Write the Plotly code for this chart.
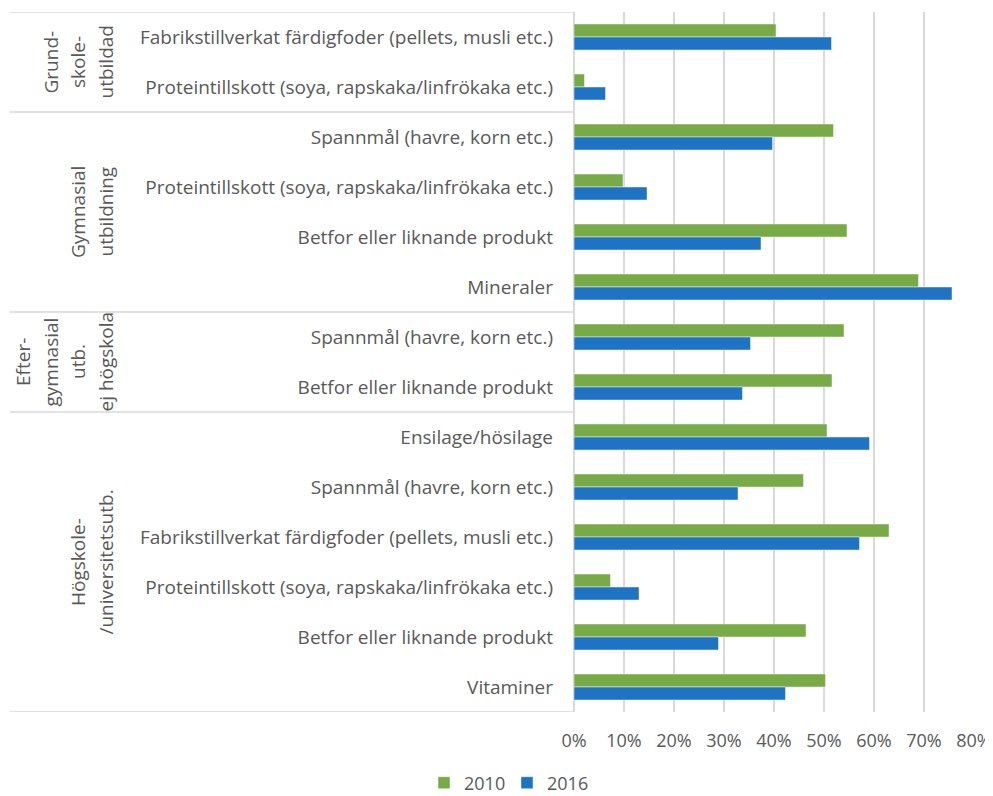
import plotly.graph_objects as go

# ---- data ----
categories = [
    "Fabrikstillverkat färdigfoder (pellets, musli etc.)",
    "Proteintillskott (soya, rapskaka/linfrökaka etc.)",
    "Spannmål (havre, korn etc.)",
    "Proteintillskott (soya, rapskaka/linfrökaka etc.)",
    "Betfor eller liknande produkt",
    "Mineraler",
    "Spannmål (havre, korn etc.)",
    "Betfor eller liknande produkt",
    "Ensilage/hösilage",
    "Spannmål (havre, korn etc.)",
    "Fabrikstillverkat färdigfoder (pellets, musli etc.)",
    "Proteintillskott (soya, rapskaka/linfrökaka etc.)",
    "Betfor eller liknande produkt",
    "Vitaminer",
]
values_2010 = [0.404, 0.021, 0.519, 0.098, 0.546, 0.689, 0.540, 0.516, 0.506, 0.459, 0.630, 0.073, 0.464, 0.503]
values_2016 = [0.515, 0.063, 0.397, 0.146, 0.374, 0.756, 0.353, 0.337, 0.591, 0.328, 0.571, 0.130, 0.289, 0.423]
group_labels = [
    ["Grund-", "skole-", "utbildad"],
    ["Gymnasial", "utbildning"],
    ["Efter-", "gymnasial", "utb.", "ej högskola"],
    ["Högskole-", "/universitetsutb."],
]
group_sizes = [2, 4, 2, 6]
series_names = ["2010", "2016"]
x_ticks = [0, 0.1, 0.2, 0.3, 0.4, 0.5, 0.6, 0.7, 0.8]

# ---- style ----
GREEN = "#78AA48"
BLUE = "#1F73C4"
TXT = "#595959"
GRID = "#d9d9d9"
FONT = "Open Sans"
FS = 19
OFF = 8  # page body margin
W, H = 993 - OFF, 796 - OFF
ML, MR, MT, MB = 574 - OFF, 19, 12 - OFF, 84
PW = W - ML - MR
PH = H - MT - MB

pos = list(range(len(categories)))

fig = go.Figure()
fig.add_trace(go.Bar(
    y=pos, x=values_2010, name=series_names[0], orientation="h",
    marker=dict(color=GREEN, line=dict(color="rgba(255,255,255,0.45)", width=1)),
))
fig.add_trace(go.Bar(
    y=pos, x=values_2016, name=series_names[1], orientation="h",
    marker=dict(color=BLUE, line=dict(color="rgba(255,255,255,0.45)", width=1)),
))

shapes = []
annotations = []
bounds = [-0.5]
for s in group_sizes:
    bounds.append(bounds[-1] + s)
for b in bounds:
    shapes.append(dict(type="line", xref="paper", yref="y",
                       x0=(10 - 574) / PW, x1=0, y0=b, y1=b,
                       line=dict(color=GRID, width=1.5)))
for gi, lines in enumerate(group_labels):
    yc = (bounds[gi] + bounds[gi + 1]) / 2
    n = len(lines)
    for li, t in enumerate(lines):
        xc = 105.5 - (n - 1 - li) * 27.5
        annotations.append(dict(
            text=t, xref="paper", yref="y", x=(xc - 574) / PW, y=yc,
            xanchor="center", yanchor="middle", textangle=-90,
            showarrow=False, font=dict(family=FONT, size=FS, color=TXT),
        ))

fig.update_layout(
    width=W, height=H,
    margin=dict(l=ML, r=MR, t=MT, b=MB, autoexpand=False),
    paper_bgcolor="white", plot_bgcolor="white",
    barmode="group", bargap=0.48, bargroupgap=0,
    font=dict(family=FONT, size=FS, color=TXT),
    shapes=shapes, annotations=annotations,
    legend=dict(orientation="h", x=(507 - 574) / PW, xanchor="center",
                y=-(783 - 712) / PH, yanchor="middle",
                font=dict(family=FONT, size=18, color=TXT),
                entrywidth=38, entrywidthmode="pixels", itemwidth=30,
                traceorder="normal"),
    showlegend=True,
)
fig.update_xaxes(
    range=[0, 0.8], tickvals=x_ticks, tickformat=".0%",
    showgrid=True, gridcolor=GRID, gridwidth=1.5,
    zeroline=True, zerolinecolor=GRID, zerolinewidth=1.5,
    showline=False, ticks="", ticklabelstandoff=16, automargin=False,
    tickfont=dict(family=FONT, size=18, color=TXT),
)
fig.update_yaxes(
    range=[len(categories) - 0.5, -0.5], tickvals=pos, ticktext=categories,
    showgrid=False, zeroline=False, showline=False, ticks="",
    ticklabelstandoff=20, automargin=False,
    tickfont=dict(family=FONT, size=FS, color=TXT),
)

fig.write_html("out.html")
